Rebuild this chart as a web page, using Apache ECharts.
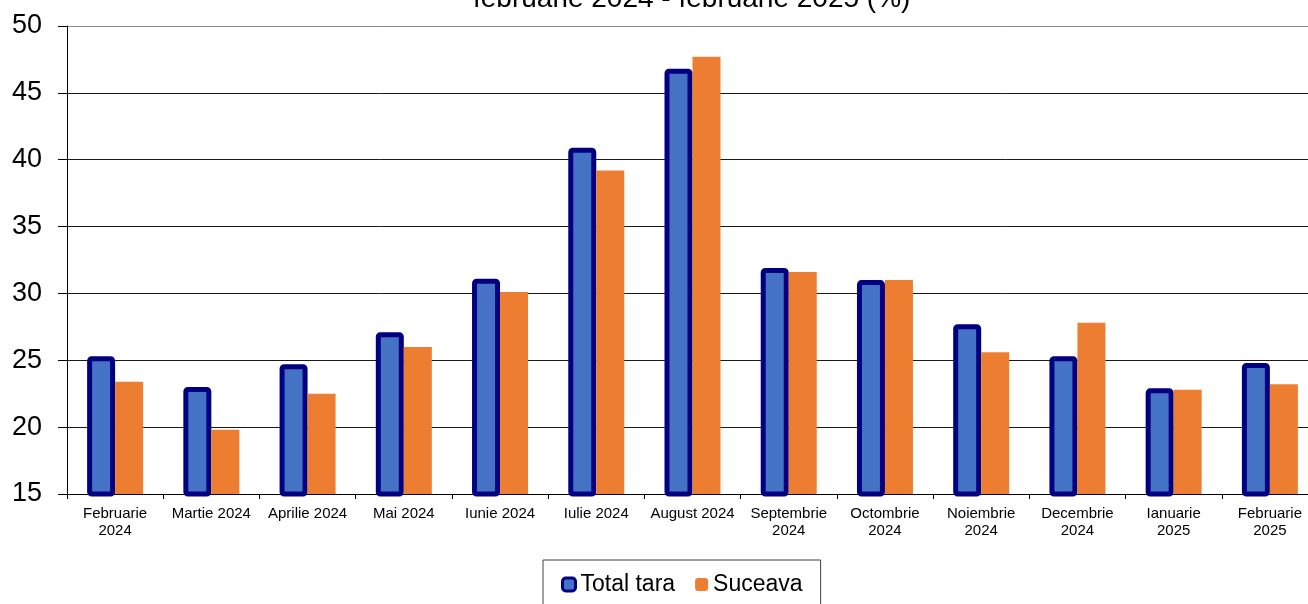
<!DOCTYPE html>
<html><head><meta charset="utf-8">
<script src="https://cdn.jsdelivr.net/npm/echarts@6/dist/echarts.min.js"></script>
<style>html,body{margin:0;padding:0;background:#fff;overflow:hidden}#c{width:1318px;height:604px}</style>
</head><body><div id="c"></div>
<script>
var titleText = 'februarie 2024 - februarie 2025 (%)';
var categories = ['Februarie 2024','Martie 2024','Aprilie 2024','Mai 2024','Iunie 2024','Iulie 2024','August 2024','Septembrie 2024','Octombrie 2024','Noiembrie 2024','Decembrie 2024','Ianuarie 2025','Februarie 2025'];
var totalTara = [25.3, 23.0, 24.7, 27.1, 31.1, 40.9, 46.8, 31.9, 31.0, 27.7, 25.3, 22.9, 24.8];
var suceava = [23.4, 19.8, 22.5, 26.0, 30.1, 39.2, 47.7, 31.6, 31.0, 25.6, 27.8, 22.8, 23.2];
var seriesNames = ['Total tara', 'Suceava'];
var FONT = '"Liberation Sans", Arial, sans-serif';

var chart = echarts.init(document.getElementById('c'));
chart.setOption({
  animation: false,
  backgroundColor: '#fff',
  title: {
    text: titleText, left: 473, top: -15, padding: 0,
    textStyle: {fontFamily: FONT, fontSize: 28, fontWeight: 'normal', color: '#000'}
  },
  legend: {
    left: 543, top: 560, padding: [13, 18, 13, 18],
    borderColor: '#404040', borderWidth: 1,
    itemWidth: 13, itemHeight: 13, itemGap: 20,
    textStyle: {fontFamily: FONT, fontSize: 23, color: '#000'},
    data: [
      {name: seriesNames[0], itemStyle: {borderWidth: 3, borderColor: '#000080', color: '#4472C4'}},
      {name: seriesNames[1]}
    ]
  },
  grid: {left: 67, top: 26, right: 0, height: 468},
  xAxis: {
    type: 'category', data: categories,
    axisLine: {lineStyle: {color: '#000', width: 1}},
    axisTick: {show: true, length: 5, lineStyle: {color: '#000'}},
    axisLabel: {
      fontFamily: FONT, fontSize: 15, color: '#000', margin: 11, lineHeight: 17, interval: 0,
      formatter: function (v) { return v.length > 12 ? v.replace(' ', '\n') : v; }
    }
  },
  yAxis: {
    type: 'value', min: 15, max: 50, interval: 5,
    axisLine: {show: true, lineStyle: {color: '#000', width: 1}},
    axisTick: {show: true, length: 9, lineStyle: {color: '#000'}},
    axisLabel: {fontFamily: FONT, fontSize: 27, color: '#000', margin: 25},
    splitLine: {show: true, lineStyle: {color: ['#000','#1a1a1a','#1a1a1a','#1a1a1a','#1a1a1a','#1a1a1a','#1a1a1a','#888'], width: 1}}
  },
  series: [
    {
      name: seriesNames[0], type: 'bar', data: totalTara, barWidth: 28, barGap: '0%',
      itemStyle: {color: '#4472C4', borderColor: '#000080', borderWidth: 5, borderRadius: 2}
    },
    {
      name: seriesNames[1], type: 'bar', data: suceava, barWidth: 28,
      itemStyle: {color: '#ED7D31'}
    }
  ]
});
</script>
</body></html>
